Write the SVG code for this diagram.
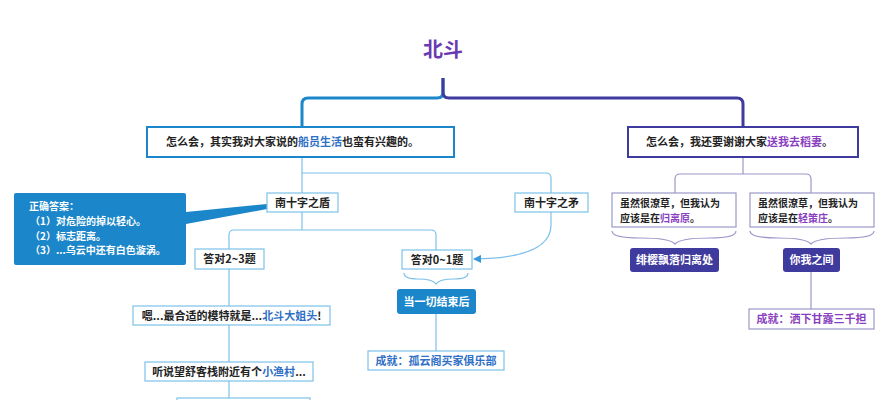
<svg xmlns="http://www.w3.org/2000/svg" width="892" height="400" viewBox="0 0 892 400">
<defs>
<marker id="arr" markerWidth="8" markerHeight="8" refX="7" refY="4" orient="auto" markerUnits="userSpaceOnUse"><path d="M0,0 L8,4 L0,8 z" fill="#3a9ad9"/></marker>
<style>
text{font-family:"Noto Sans CJK SC","Noto Sans",sans-serif;font-weight:bold;font-size:11px;fill:#222}
.s{font-size:10px}
.c{text-anchor:middle}
.hb{fill:#2f6fc6}.hp{fill:#8a3fc0}.w{fill:#fff}
.bw{fill:#fff;stroke:#7cc0ea;stroke-width:1.2}
.bp{fill:#fff;stroke:#9a98c8;stroke-width:1.2}
.lb{fill:none;stroke:#7cc0ea;stroke-width:1.2}
.lp{fill:none;stroke:#9a98c8;stroke-width:1.2}
</style>
</defs>
<rect width="892" height="400" fill="#fff"/>
<text x="443" y="57" class="c" style="font-size:20px;fill:#6a3ab2">北斗</text>
<g id="connectors">
<path d="M443,78 V92 Q443,98 437,98 H308 Q302,98 302,104 V127" fill="none" stroke="#1b86c9" stroke-width="3"/>
<path d="M443,78 V92 Q443,98 449,98 H737 Q743,98 743,104 V126" fill="none" stroke="#3f3a9e" stroke-width="3"/>
<path class="lb" d="M302,157 V193 M302,173 H546 Q551,173 551,178 V193"/>
<path class="lb" d="M302,212 V230 M229,249 V235 Q229,230 234,230 H431 Q436,230 436,235 V250"/>
<path class="lb" d="M551,212 V225 Q551,258 474,259" marker-end="url(#arr)"/>
<path class="lb" d="M404,273 Q404,279 418,279 Q433,279 436,284 Q439,279 454,279 Q468,279 468,273" stroke="#1b86c9"/>
<path class="lb" d="M436,314 V351"/>
<path class="lb" d="M229,269 V306 M229,325 V362 M229,381 V400"/>
<path class="lp" d="M743,157 V174 M675,193 V179 Q675,174 680,174 H806 Q811,174 811,179 V193"/>
<path class="lp" d="M612,231 Q612,238 640,238 Q670,238 675,244 Q680,238 710,238 Q736,238 736,231" stroke="#3f3a9e"/>
<path class="lp" d="M750,231 Q750,238 778,238 Q806,238 811,244 Q816,238 846,238 Q874,238 874,231" stroke="#3f3a9e"/>
<path class="lp" d="M811,272 V309"/>
<path d="M186,212 L267,204 L267,209 L186,224 z" fill="#1b86c9"/>
</g>
<g id="n-left"><rect x="147" y="127" width="307" height="30" fill="#fff" stroke="#1b86c9" stroke-width="2"/><text x="166" y="146">怎么会，其实我对大家说的<tspan class="hb">船员生活</tspan>也蛮有兴趣的。</text></g>
<g id="n-right"><rect x="628" y="127" width="230" height="30" fill="#fff" stroke="#3f3a9e" stroke-width="2"/><text x="646" y="146">怎么会，我还要谢谢大家<tspan class="hp">送我去稻妻</tspan>。</text></g>
<g id="n-dun"><rect class="bw" x="267" y="193" width="71" height="19"/><text x="302.5" y="206.5" class="c">南十字之盾</text></g>
<g id="n-mao"><rect class="bw" x="515" y="193" width="73" height="19"/><text x="551.5" y="206.5" class="c">南十字之矛</text></g>
<g id="n-callout"><rect x="14" y="193" width="172" height="72" rx="2" fill="#1b86c9"/>
<text x="29" y="210" class="w s">正确答案：</text>
<text x="30" y="225" class="w s">（1）对危险的掉以轻心。</text>
<text x="30" y="239.5" class="w s">（2）标志距离。</text>
<text x="30" y="254" class="w s">（3）...乌云中还有白色漩涡。</text></g>
<g id="n-a23"><rect class="bw" x="195" y="249" width="69" height="20"/><text x="229.5" y="263" class="c">答对2~3题</text></g>
<g id="n-a01"><rect class="bw" x="402" y="250" width="70" height="19"/><text x="437" y="263.5" class="c">答对0~1题</text></g>
<g id="n-end"><rect x="397" y="289" width="79" height="25" rx="3" fill="#1b86c9"/><text x="436.5" y="305.5" class="c w">当一切结束后</text></g>
<g id="n-ach1"><rect class="bw" x="368" y="351" width="136" height="19"/><text x="436" y="364.5" class="c hb">成就：孤云阁买家俱乐部</text></g>
<g id="n-model"><rect class="bw" x="133" y="306" width="197" height="19"/><text x="231.5" y="319.5" class="c">嗯...最合适的模特就是...<tspan class="hb">北斗大姐头</tspan>!</text></g>
<g id="n-village"><rect class="bw" x="145" y="362" width="168" height="19"/><text x="229" y="375.5" class="c">听说望舒客栈附近有个<tspan class="hb">小渔村</tspan>...</text></g>
<g id="n-next"><rect class="bw" x="177" y="398" width="133" height="10"/></g>
<g id="n-r1"><rect class="bp" x="612" y="193" width="124" height="34"/><text x="620" y="206.5" class="s">虽然很潦草，但我认为</text><text x="620" y="221.5" class="s">应该是在<tspan class="hp">归离原</tspan>。</text></g>
<g id="n-r2"><rect class="bp" x="750" y="193" width="124" height="34"/><text x="758" y="206.5" class="s">虽然很潦草，但我认为</text><text x="758" y="221.5" class="s">应该是在<tspan class="hp">轻策庄</tspan>。</text></g>
<g id="n-fei"><rect x="630" y="248" width="89" height="24" rx="3" fill="#3f3a9e"/><text x="674.5" y="264" class="c w">绯樱飘落归离处</text></g>
<g id="n-ni"><rect x="783" y="248" width="57" height="24" rx="3" fill="#3f3a9e"/><text x="811.5" y="264" class="c w">你我之间</text></g>
<g id="n-ach2"><rect class="bp" x="749" y="309" width="125" height="20"/><text x="811.5" y="323" class="c hp">成就：洒下甘露三千担</text></g>
</svg>
